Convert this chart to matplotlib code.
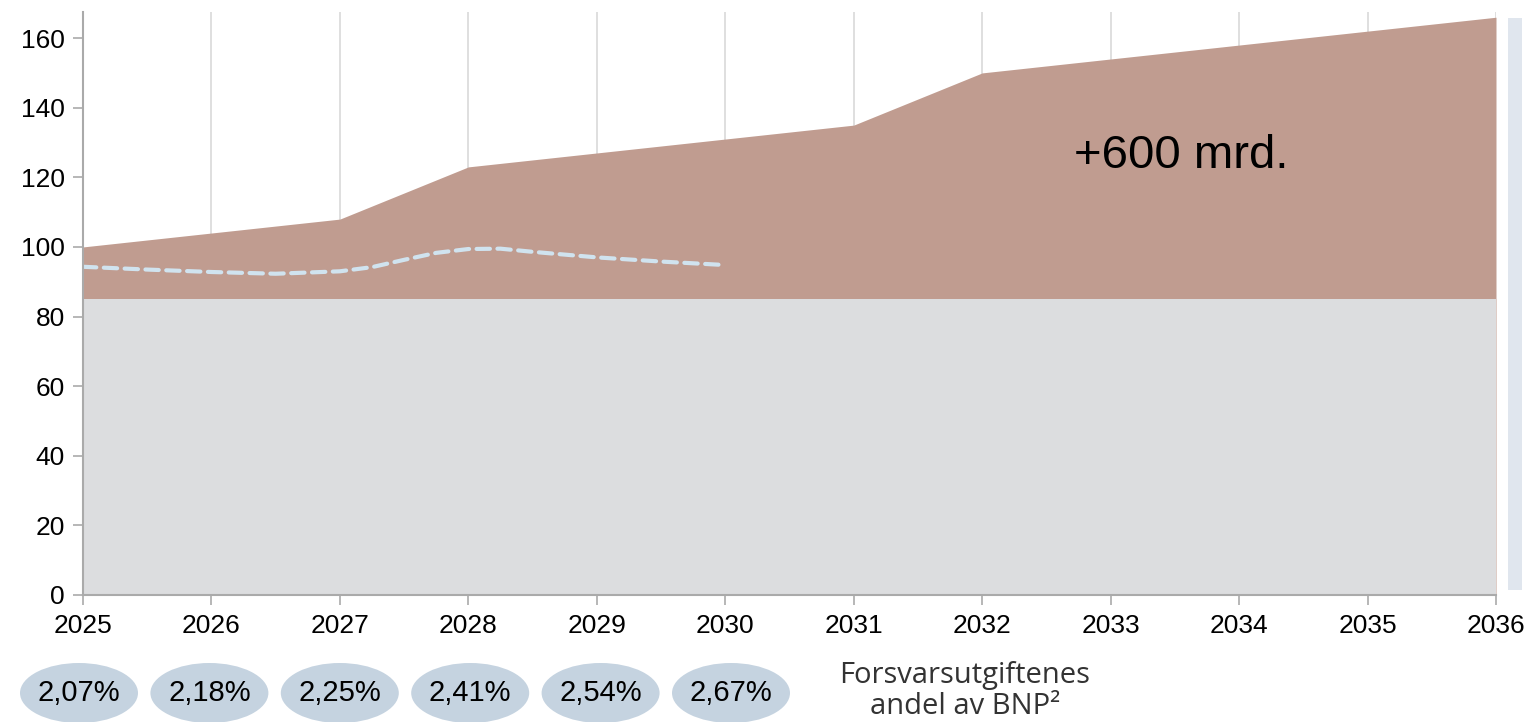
import matplotlib
matplotlib.use("Agg")
import matplotlib.pyplot as plt
from matplotlib.patches import Ellipse, Rectangle

years = [2025, 2026, 2027, 2028, 2029, 2030, 2031, 2032, 2033, 2034, 2035, 2036]
total = [100, 104, 108, 123, 127, 131, 135, 150, 154, 158, 162, 166]
base = [85] * len(years)

old_x = [2025, 2025.5, 2026, 2026.5, 2027, 2027.25, 2027.5, 2027.75, 2028, 2028.25,
         2028.5, 2029, 2029.5, 2030]
old_y = [94.3, 93.5, 92.8, 92.3, 93.0, 94.2, 96.3, 98.3, 99.4, 99.5, 98.6, 97.0, 95.8, 94.8]

shares = ["2,07%", "2,18%", "2,25%", "2,41%", "2,54%", "2,67%"]

W, H = 1529, 722
fig = plt.figure(figsize=(W / 100, H / 100), dpi=100)
ax = fig.add_axes([83 / W, 1 - 595 / H, (1496 - 83) / W, (595 - 12) / H])

ax.fill_between(years, 0, total, color="#c09c90", lw=0, zorder=2)
ax.fill_between(years, 0, base, color="#dcdddf", lw=0, zorder=3)
ax.plot(old_x, old_y, color="#d0e3ef", lw=3.0, ls=(0, (3.2, 1.8)), zorder=4,
        dash_capstyle="round")

ax.set_xlim(2025, 2036)
ax.set_ylim(0, 167.5)
ax.set_xticks(years)
ax.set_yticks(range(0, 161, 20))
for x in years:
    ax.axvline(x, color="#d9d9d9", lw=1.2, zorder=1)

for s in ["top", "right"]:
    ax.spines[s].set_visible(False)
for s in ["left", "bottom"]:
    ax.spines[s].set_color("#aaaaaa")
    ax.spines[s].set_linewidth(1.5)
    ax.spines[s].set_zorder(5)
ax.tick_params(colors="#aaaaaa", labelcolor="black", labelsize=19, length=7, width=1.2)
ax.tick_params(axis="x", pad=7)
ax.tick_params(axis="y", pad=6)
for lab in ax.get_xticklabels() + ax.get_yticklabels():
    lab.set_family("Liberation Sans")

ax.text(2033.55, 126, "+600 mrd.", fontsize=34, family="Liberation Sans",
        ha="center", va="center", zorder=6)

# right side panel edge
fig.patches.append(Rectangle((1508 / W, 1 - 590 / H), 14 / W, 572 / H,
                             transform=fig.transFigure, color="#e0e6ee", lw=0))

for i, s in enumerate(shares):
    cx = (79 + 130.4 * i) / W
    cy = 1 - 693 / H
    fig.patches.append(Ellipse((cx, cy), 118 / W, 60 / H, transform=fig.transFigure,
                               color="#c5d3e0", lw=0))
    fig.text(cx, cy, s, fontsize=21, ha="center", va="center",
             family=["Liberation Sans Narrow", "Liberation Sans"])

fig.text(965 / W, 1 - 675 / H, "Forsvarsutgiftenes", fontsize=21,
         ha="center", va="center", color="#333333", family="Open Sans")
fig.text(965 / W, 1 - 707 / H, "andel av BNP²", fontsize=21,
         ha="center", va="center", color="#333333", family="Open Sans")

fig.savefig("out.png", dpi=100)
